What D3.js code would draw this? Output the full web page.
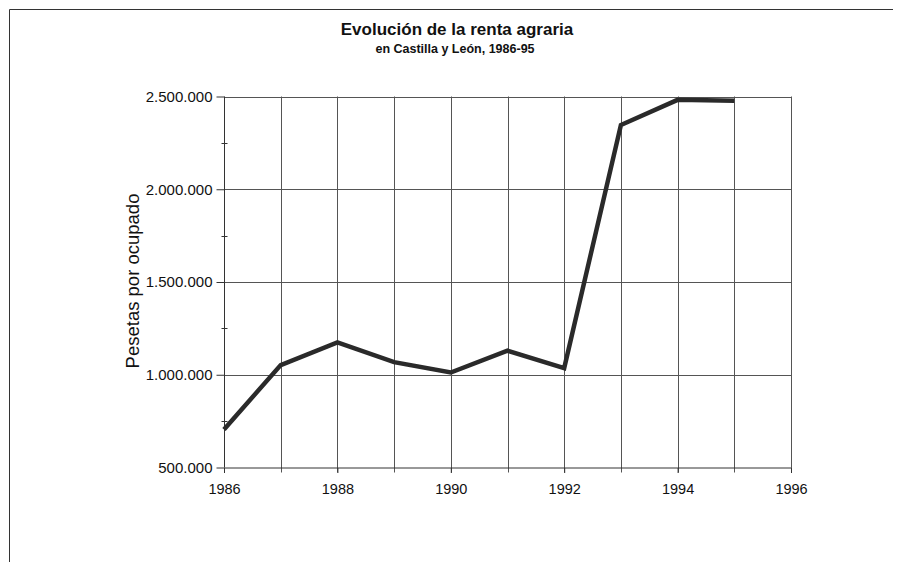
<!DOCTYPE html>
<html>
<head>
<meta charset="utf-8">
<script src="https://cdn.jsdelivr.net/npm/d3@7"></script>
<style>
  body { margin: 0; background: #fff; }
  svg { display: block; font-family: "Liberation Sans", Arial, sans-serif; }
</style>
</head>
<body>
<div id="main"></div>
<script>
// data
let years = [1986, 1987, 1988, 1989, 1990, 1991, 1992, 1993, 1994, 1995];
let renta = [705000, 1052000, 1174000, 1068000, 1012000, 1130000, 1036000, 2346000, 2482000, 2477000];
let yTicks = [500000, 1000000, 1500000, 2000000, 2500000];
let xTicks = [1986, 1988, 1990, 1992, 1994, 1996];

let chartW = 899, chartH = 562;
let plotLeft = 224, plotRight = 791, plotTop = 96.5, plotBottom = 467.5;

let svg = d3.select("#main")
    .append("svg")
    .attr("width", chartW)
    .attr("height", chartH);

// page frame (only top and left edges visible on the scan)
svg.append("path")
    .attr("d", "M9.5,562 L9.5,9.5 L893,9.5")
    .attr("fill", "none")
    .attr("stroke", "#333")
    .attr("stroke-width", 1);

var xScale = d3.scaleLinear().domain([1986, 1996]).range([plotLeft, plotRight]);
var yScale = d3.scaleLinear().domain([500000, 2500000]).range([plotBottom, plotTop]);

let fmt = d => d3.format(",")(d).replace(/,/g, ".");

let g = svg.append("g");

// vertical gridlines, one per year
g.selectAll("line.vgrid")
    .data(d3.range(1987, 1997))
    .enter()
    .append("line")
    .attr("class", "vgrid")
    .attr("x1", d => Math.round(xScale(d)) + 0.5)
    .attr("x2", d => Math.round(xScale(d)) + 0.5)
    .attr("y1", plotTop)
    .attr("y2", plotBottom + 5)
    .attr("stroke", "#555")
    .attr("stroke-width", 1);

// horizontal gridlines
g.selectAll("line.hgrid")
    .data(yTicks.slice(1))
    .enter()
    .append("line")
    .attr("class", "hgrid")
    .attr("x1", plotLeft)
    .attr("x2", plotRight)
    .attr("y1", d => Math.round(yScale(d)) + 0.5)
    .attr("y2", d => Math.round(yScale(d)) + 0.5)
    .attr("stroke", "#555")
    .attr("stroke-width", 1);

// y axis
let yAxis = d3.axisLeft(yScale)
    .tickValues(yTicks)
    .tickSize(8)
    .tickPadding(4)
    .tickFormat(fmt);

let yg = svg.append("g")
    .attr("transform", `translate(${plotLeft + 0.5},0)`)
    .call(yAxis);
yg.select(".domain").attr("stroke", "#333").attr("d", `M0,${plotTop}V${plotBottom}`);
yg.selectAll(".tick line").attr("stroke", "#333");
yg.selectAll(".tick text")
    .attr("font-size", 15)
    .attr("fill", "#111");

// minor ticks crossing the y axis
yg.selectAll("line.minor")
    .data([750000, 1250000, 1750000, 2250000])
    .enter()
    .append("line")
    .attr("class", "minor")
    .attr("x1", -3)
    .attr("x2", 3)
    .attr("y1", d => Math.round(yScale(d)) + 0.5)
    .attr("y2", d => Math.round(yScale(d)) + 0.5)
    .attr("stroke", "#333");

// x axis
let xAxis = d3.axisBottom(xScale)
    .tickValues(xTicks)
    .tickSize(5)
    .tickPadding(11)
    .tickFormat(d3.format("d"));

let xg = svg.append("g")
    .attr("transform", `translate(0,${plotBottom + 0.5})`)
    .call(xAxis);
xg.select(".domain").attr("stroke", "#333").attr("d", `M${plotLeft},0H${plotRight}`);
xg.selectAll(".tick line").attr("stroke", "#333");
xg.selectAll(".tick text")
    .attr("font-size", 14.5)
    .attr("fill", "#111");

// data line
let line = d3.line()
    .x((d, i) => xScale(years[i]))
    .y(d => yScale(d));

svg.append("path")
    .datum(renta)
    .attr("d", line)
    .attr("fill", "none")
    .attr("stroke", "#2a2a2a")
    .attr("stroke-width", 4.5)
    .attr("stroke-linejoin", "miter");

// titles
svg.append("text")
    .attr("x", 457)
    .attr("y", 35)
    .attr("text-anchor", "middle")
    .attr("font-size", 17)
    .attr("font-weight", "bold")
    .attr("fill", "#111")
    .text("Evolución de la renta agraria");

svg.append("text")
    .attr("x", 455)
    .attr("y", 53)
    .attr("text-anchor", "middle")
    .attr("font-size", 12.5)
    .attr("font-weight", "bold")
    .attr("fill", "#111")
    .text("en Castilla y León, 1986-95");

svg.append("text")
    .attr("transform", "translate(139,281) rotate(-90)")
    .attr("text-anchor", "middle")
    .attr("font-size", 18.5)
    .attr("fill", "#111")
    .text("Pesetas por ocupado");
</script>
</body>
</html>
